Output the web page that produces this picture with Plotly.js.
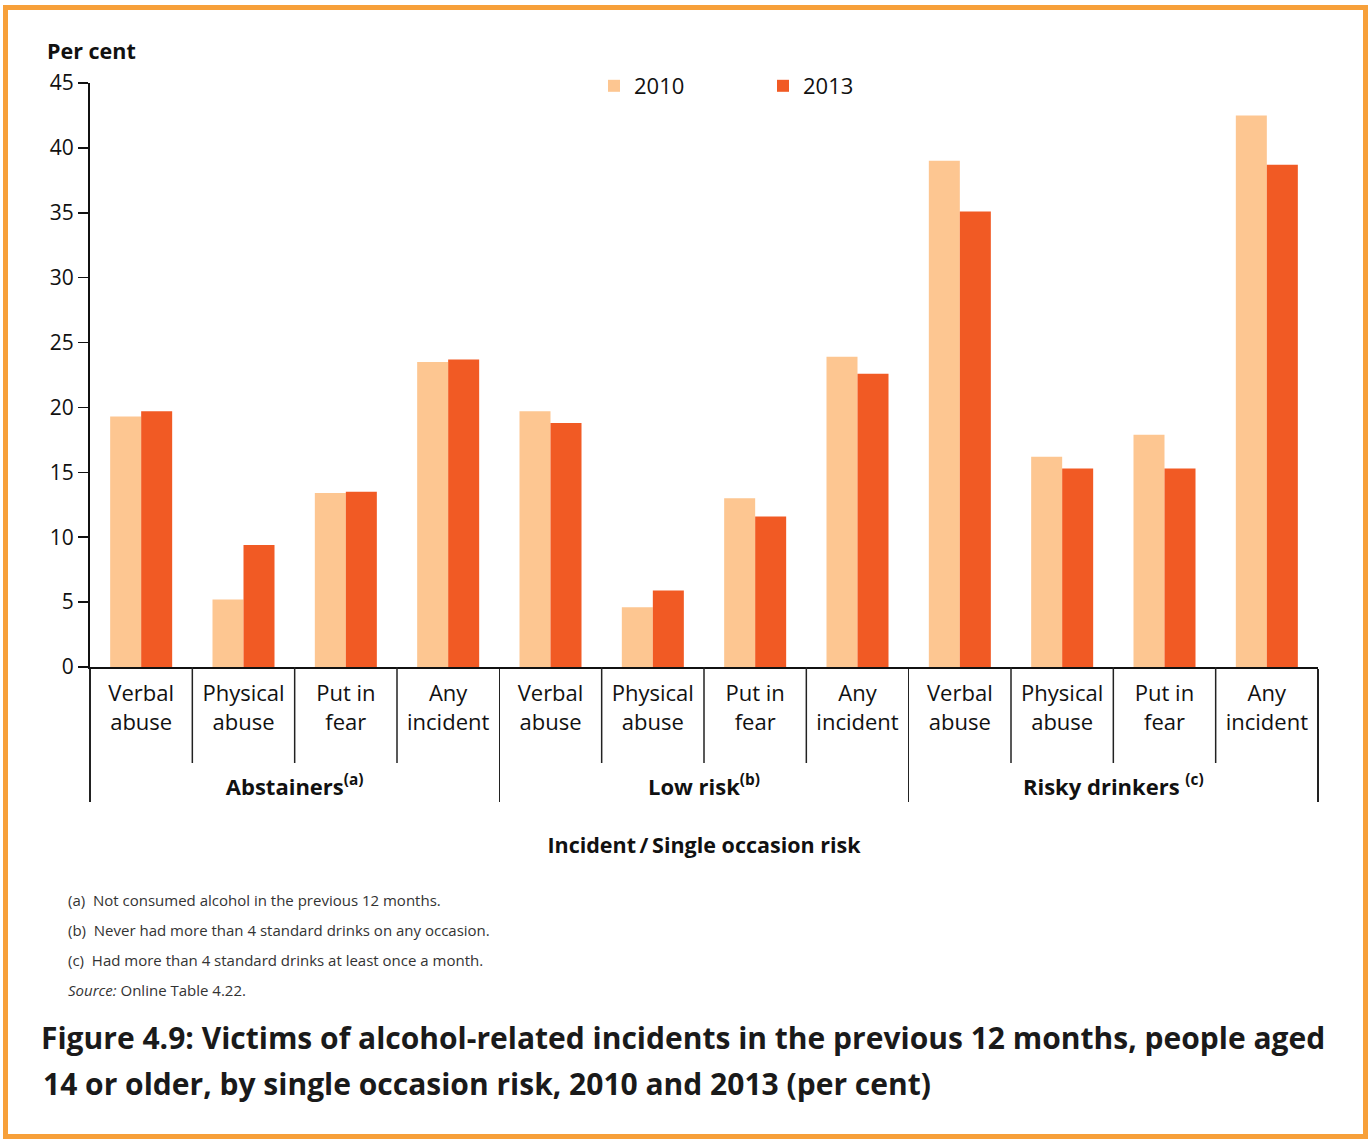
<!DOCTYPE html>
<html><head><meta charset="utf-8">
<script src="https://cdn.plot.ly/plotly-3.0.1.min.js"></script>
<style>body{margin:0;background:#fff}#chart{width:1372px;height:1139px}</style>
</head><body><div id="chart"></div>
<script>
// ---- data ----
const groups = ["<b>Abstainers<sup>(a)</sup></b>", "<b>Low risk<sup>(b)</sup></b>", "<b>Risky drinkers <sup>(c)</sup></b>"];
const incidents = ["Verbal<br>abuse", "Physical<br>abuse", "Put in<br>fear", "Any<br>incident"];
const values2010 = [19.3, 5.2, 13.4, 23.5, 19.7, 4.6, 13.0, 23.9, 39.0, 16.2, 17.9, 42.5];
const values2013 = [19.7, 9.4, 13.5, 23.7, 18.8, 5.9, 11.6, 22.6, 35.1, 15.3, 15.3, 38.7];
const yTicks = [0, 5, 10, 15, 20, 25, 30, 35, 40, 45];
const seriesNames = ["2010", "2013"];
const footnotes = [
  "(a)  Not consumed alcohol in the previous 12 months.",
  "(b)  Never had more than 4 standard drinks on any occasion.",
  "(c)  Had more than 4 standard drinks at least once a month.",
  "<i>Source:</i> Online Table 4.22."
];
const figTitleLines = [
  "<b>Figure 4.9: Victims of alcohol-related incidents in the previous 12 months, people aged</b>",
  "<b>14 or older, by single occasion risk, 2010 and 2013 (per cent)</b>"
];

// ---- build ----
const SPACER = "<br><span style='font-size:56px'> </span>";
const outer = [], inner = [];
groups.forEach(g => incidents.forEach(c => { outer.push(g); inner.push(c + SPACER); }));

const W = 1372, H = 1139;
const M = {l: 90, r: 54, t: 83, b: 472};
const PW = W - M.l - M.r, PH = H - M.t - M.b;
const px = x => (x - M.l) / PW;
const py = y => (H - M.b - y) / PH;

const FONT = "Open Sans, Noto Sans, sans-serif";
const colors = ["#FDC691", "#F15A24"];

const traces = [values2010, values2013].map((v, i) => ({
  type: "bar", name: seriesNames[i], x: [outer, inner], y: v,
  marker: {color: colors[i], line: {width: 0}}, hoverinfo: "y"
}));

const annotations = [
  {text: "<b>Per cent</b>", xref: "paper", yref: "paper", x: px(45), y: py(50), xanchor: "left", yanchor: "middle",
   showarrow: false, font: {family: FONT, size: 21.5, color: "#111"}},
  {text: figTitleLines[1], xref: "paper", yref: "paper", x: px(41), y: py(1083), xanchor: "left", yanchor: "middle",
   showarrow: false, font: {family: FONT, size: 30, color: "#1a1a1a"}}
];
footnotes.forEach((t, i) => annotations.push({
  text: t, xref: "paper", yref: "paper", x: px(66), y: py(900 + 30 * i), xanchor: "left", yanchor: "middle",
  showarrow: false, font: {family: FONT, size: 15, color: "#333"}
}));

// inner category boundaries (not group boundaries)
const shapes = [];
for (let i = 1; i < 12; i++) {
  if (i % 4 === 0) continue;
  shapes.push({type: "line", xref: "x", yref: "paper", x0: i - 0.5, x1: i - 0.5, y0: 0, y1: py(763),
    line: {color: "#222", width: 1.5}});
}
// orange frame
shapes.push({type: "rect", xref: "paper", yref: "paper", x0: px(5.5), x1: px(1365.5), y0: py(7.5), y1: py(1136.5),
  line: {color: "#F7A03A", width: 5}, fillcolor: "rgba(0,0,0,0)"});

const layout = {
  width: W, height: H, margin: M, paper_bgcolor: "#fff", plot_bgcolor: "#fff",
  font: {family: FONT, color: "#111"},
  title: {text: figTitleLines[0], xref: "container", yref: "container", x: 41 / W, xanchor: "left",
          y: 1 - 1038 / H, yanchor: "middle", font: {family: FONT, size: 30, color: "#1a1a1a"}},
  barmode: "group", bargap: 0.394, bargroupgap: 0,
  showlegend: true,
  legend: {orientation: "h", x: px(594), y: py(86), xanchor: "left", yanchor: "middle",
           font: {family: FONT, size: 22, color: "#111"}, entrywidth: 124, entrywidthmode: "pixels",
           bgcolor: "rgba(0,0,0,0)"},
  xaxis: {type: "multicategory", showline: true, linecolor: "#111", linewidth: 2,
          ticks: "outside", ticklen: 12, tickcolor: "rgba(0,0,0,0)", tickson: "boundaries",
          ticklabelstandoff: 6,
          showdividers: true, dividercolor: "#222", dividerwidth: 1.5,
          tickfont: {family: FONT, size: 22, color: "#111"},
          title: {text: "<b>Incident\u2009/\u2009Single occasion risk</b>", font: {family: FONT, size: 21.5, color: "#111"}, standoff: 38},
          automargin: false, fixedrange: true},
  yaxis: {range: [0, 45], tickvals: yTicks, ticks: "outside", ticklen: 10, tickwidth: 1.5, tickcolor: "#111",
          showline: true, linecolor: "#111", linewidth: 2, showgrid: false, zeroline: false,
          tickfont: {family: FONT, size: 21, color: "#111"}, automargin: false, fixedrange: true},
  annotations, shapes
};

Plotly.newPlot("chart", traces, layout, {displayModeBar: false, staticPlot: true});
</script>
</body></html>
